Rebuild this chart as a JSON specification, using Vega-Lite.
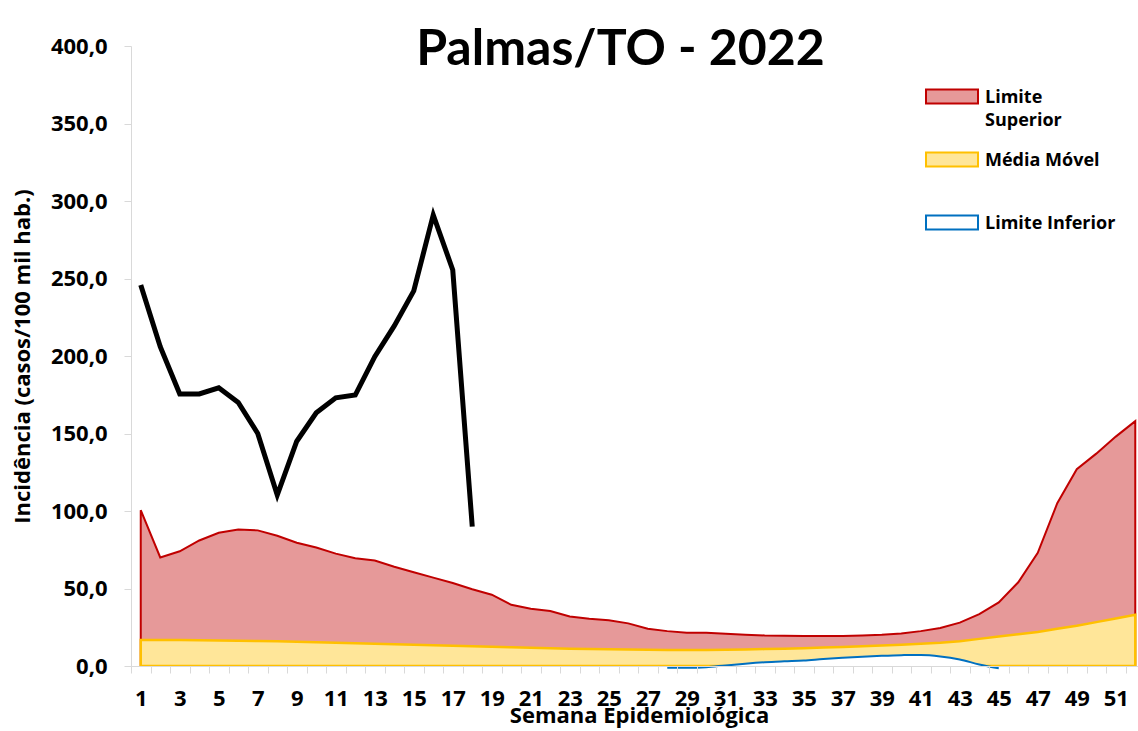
{
  "$schema": "https://vega.github.io/schema/vega-lite/v6.json",
  "width": 1007,
  "height": 620,
  "autosize": {"type": "none"},
  "padding": {"left": 131, "top": 46, "right": 0, "bottom": 65},
  "background": "white",
  "title": {
    "text": "Palmas/TO - 2022",
    "font": "Lato",
    "fontSize": 50,
    "fontWeight": "bold",
    "color": "black",
    "anchor": "middle",
    "baseline": "alphabetic",
    "offset": 0,
    "dx": -14,
    "dy": 80
  },
  "data": {
    "values": [
      {"w": 1, "sup": 100.5, "med": 16.8, "cas": 245.8},
      {"w": 2, "sup": 70, "med": 16.8, "cas": 206},
      {"w": 3, "sup": 74, "med": 16.7, "cas": 175.5},
      {"w": 4, "sup": 81, "med": 16.6, "cas": 175.5},
      {"w": 5, "sup": 86, "med": 16.5, "cas": 179.5},
      {"w": 6, "sup": 88, "med": 16.3, "cas": 170},
      {"w": 7, "sup": 87.5, "med": 16.1, "cas": 150},
      {"w": 8, "sup": 84, "med": 15.9, "cas": 110.3},
      {"w": 9, "sup": 79.5, "med": 15.6, "cas": 145},
      {"w": 10, "sup": 76.5, "med": 15.3, "cas": 163.4},
      {"w": 11, "sup": 72.5, "med": 15.0, "cas": 173},
      {"w": 12, "sup": 69.5, "med": 14.7, "cas": 174.8},
      {"w": 13, "sup": 68, "med": 14.4, "cas": 199.6},
      {"w": 14, "sup": 64, "med": 14.0, "cas": 219.4},
      {"w": 15, "sup": 60.5, "med": 13.7, "cas": 242},
      {"w": 16, "sup": 57, "med": 13.4, "cas": 291},
      {"w": 17, "sup": 53.5, "med": 13.0, "cas": 255.5},
      {"w": 18, "sup": 49.5, "med": 12.7, "cas": 89.9},
      {"w": 19, "sup": 46, "med": 12.4},
      {"w": 20, "sup": 39.5, "med": 12.1},
      {"w": 21, "sup": 37, "med": 11.8},
      {"w": 22, "sup": 35.5, "med": 11.5},
      {"w": 23, "sup": 32, "med": 11.2},
      {"w": 24, "sup": 30.5, "med": 11.0},
      {"w": 25, "sup": 29.5, "med": 10.8},
      {"w": 26, "sup": 27.5, "med": 10.6},
      {"w": 27, "sup": 24, "med": 10.5},
      {"w": 28, "sup": 22.5, "med": 10.4, "inf": -1.2},
      {"w": 29, "sup": 21.5, "med": 10.4, "inf": -1.2},
      {"w": 30, "sup": 21.5, "med": 10.4, "inf": -0.8},
      {"w": 31, "sup": 20.8, "med": 10.5, "inf": 0.4},
      {"w": 32, "sup": 20.2, "med": 10.7, "inf": 1.5},
      {"w": 33, "sup": 19.7, "med": 10.9, "inf": 2.4},
      {"w": 34, "sup": 19.5, "med": 11.2, "inf": 3.0},
      {"w": 35, "sup": 19.4, "med": 11.5, "inf": 3.5},
      {"w": 36, "sup": 19.3, "med": 11.9, "inf": 4.5},
      {"w": 37, "sup": 19.4, "med": 12.3, "inf": 5.3},
      {"w": 38, "sup": 19.7, "med": 12.7, "inf": 6.0},
      {"w": 39, "sup": 20.2, "med": 13.2, "inf": 6.6},
      {"w": 40, "sup": 21, "med": 13.7, "inf": 7.0},
      {"w": 41, "sup": 22.5, "med": 14.3, "inf": 7.1},
      {"w": 42, "sup": 24.5, "med": 15.0, "inf": 6.2},
      {"w": 43, "sup": 28, "med": 16.0, "inf": 4.2},
      {"w": 44, "sup": 33.5, "med": 17.5, "inf": 1.0},
      {"w": 45, "sup": 41, "med": 19.0, "inf": -1.5},
      {"w": 46, "sup": 54, "med": 20.5},
      {"w": 47, "sup": 73, "med": 22.0},
      {"w": 48, "sup": 105, "med": 24.0},
      {"w": 49, "sup": 127, "med": 26.0},
      {"w": 50, "sup": 137, "med": 28.3},
      {"w": 51, "sup": 148, "med": 30.6},
      {"w": 52, "sup": 158, "med": 33.0}
    ]
  },
  "encoding": {
    "x": {
      "field": "w",
      "type": "quantitative",
      "scale": {"domain": [0.5, 52.14], "nice": false, "zero": false},
      "axis": {
        "title": "Semana Epidemiológica",
        "titleFont": "Open Sans",
        "titleFontSize": 22,
        "titleFontWeight": "bold",
        "titleColor": "black",
        "titleX": 508,
        "titleY": 39,
        "titleBaseline": "top",
        "values": [0.5, 1, 1.5, 2.5, 3, 3.5, 4.5, 5, 5.5, 6.5, 7, 7.5, 8.5, 9, 9.5, 10.5, 11, 11.5, 12.5, 13, 13.5, 14.5, 15, 15.5, 16.5, 17, 17.5, 18.5, 19, 19.5, 20.5, 21, 21.5, 22.5, 23, 23.5, 24.5, 25, 25.5, 26.5, 27, 27.5, 28.5, 29, 29.5, 30.5, 31, 31.5, 32.5, 33, 33.5, 34.5, 35, 35.5, 36.5, 37, 37.5, 38.5, 39, 39.5, 40.5, 41, 41.5, 42.5, 43, 43.5, 44.5, 45, 45.5, 46.5, 47, 47.5, 48.5, 49, 49.5, 50.5, 51, 51.5],
        "labelExpr": "datum.value % 2 == 1 ? format(datum.value, 'd') : ''",
        "labelOverlap": false,
        "labelFlush": false,
        "labelFont": "Open Sans",
        "labelFontSize": 22,
        "labelFontWeight": "bold",
        "labelColor": "black",
        "labelPadding": 15,
        "tickSize": 7,
        "tickColor": "#d9d9d9",
        "tickOpacity": {"condition": {"test": "datum.value % 1 == 0", "value": 0}, "value": 1},
        "domainColor": "#d9d9d9",
        "grid": false,
        "zindex": 1
      }
    },
    "y": {
      "type": "quantitative",
      "scale": {"domain": [0, 400], "nice": false}
    }
  },
  "layer": [
    {
      "mark": {"type": "area", "clip": true, "opacity": 1, "strokeWidth": 2},
      "encoding": {
        "y": {
          "field": "sup",
          "type": "quantitative",
          "stack": null,
          "axis": {
            "title": "Incidência (casos/100 mil hab.)",
            "titleFont": "Open Sans",
            "titleFontSize": 22,
            "titleFontWeight": "bold",
            "titleColor": "black",
            "titleAngle": -90,
            "titleX": -109,
            "titleY": 310,
            "titleBaseline": "middle",
            "titleAlign": "center",
            "values": [0, 50, 100, 150, 200, 250, 300, 350, 400],
            "labelExpr": "replace(format(datum.value, '.1f'), '.', ',')",
            "labelFont": "Open Sans",
            "labelFontSize": 22,
            "labelFontWeight": "bold",
            "labelColor": "black",
            "labelPadding": 17,
            "tickSize": 7,
            "tickColor": "#d9d9d9",
            "domainColor": "#d9d9d9",
            "grid": false,
            "zindex": 1
          }
        },
        "fill": {
          "datum": "Limite Superior",
          "scale": {"domain": ["Limite Superior", "Média Móvel", "Limite Inferior"], "range": ["#e69999", "#ffe699", "#ffffff"]},
          "legend": {
            "title": null, "orient": "none", "legendX": 794, "legendY": 21, "padding": 0, "clipHeight": 61,
            "symbolType": "M-1,-0.31H1V0.23H-1Z", "symbolSize": 2704, "symbolStrokeWidth": 2, "symbolOpacity": 1,
            "labelFont": "Open Sans", "labelFontSize": 18, "labelFontWeight": "bold", "labelColor": "black",
            "labelBaseline": "middle", "labelOffset": 6, "rowPadding": 0,
            "labelExpr": "datum.label == 'Limite Superior' ? ['Limite', 'Superior'] : [datum.label, '']"
          }
        },
        "stroke": {
          "datum": "Limite Superior",
          "scale": {"domain": ["Limite Superior", "Média Móvel", "Limite Inferior"], "range": ["#c00000", "#ffc000", "#0070c0"]},
          "legend": {
            "title": null, "orient": "none", "legendX": 794, "legendY": 21, "padding": 0, "clipHeight": 61,
            "symbolType": "M-1,-0.31H1V0.23H-1Z", "symbolSize": 2704, "symbolStrokeWidth": 2, "symbolOpacity": 1,
            "labelFont": "Open Sans", "labelFontSize": 18, "labelFontWeight": "bold", "labelColor": "black",
            "labelBaseline": "middle", "labelOffset": 6, "rowPadding": 0,
            "labelExpr": "datum.label == 'Limite Superior' ? ['Limite', 'Superior'] : [datum.label, '']"
          }
        }
      }
    },
    {
      "mark": {"type": "area", "clip": true, "opacity": 1, "strokeWidth": 2.5},
      "encoding": {
        "y": {"field": "med", "type": "quantitative", "stack": null},
        "fill": {"datum": "Média Móvel"},
        "stroke": {"datum": "Média Móvel"}
      }
    },
    {
      "mark": {"type": "area", "clip": true, "opacity": 1, "fill": "white", "interpolate": "monotone"},
      "encoding": {
        "y": {"field": "inf", "type": "quantitative", "stack": null},
        "y2": {"datum": 0}
      }
    },
    {
      "mark": {"type": "line", "strokeWidth": 2, "interpolate": "monotone"},
      "encoding": {
        "y": {"field": "inf", "type": "quantitative"},
        "stroke": {"datum": "Limite Inferior"}
      }
    },
    {
      "mark": {"type": "line", "color": "black", "strokeWidth": 5},
      "encoding": {
        "y": {"field": "cas", "type": "quantitative"}
      }
    }
  ],
  "config": {
    "font": "Open Sans",
    "view": {"stroke": null},
    "style": {"guide-label": {"lineHeight": 23}}
  }
}
